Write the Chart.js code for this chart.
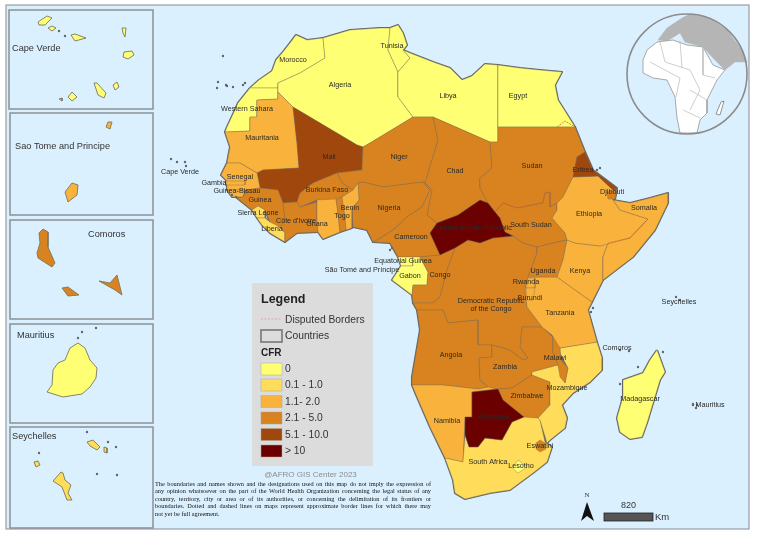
<!DOCTYPE html>
<html><head><meta charset="utf-8">
<style>html,body{margin:0;padding:0;background:#fff}#w{position:absolute;left:0;top:0;width:758px;height:539px}canvas{filter:blur(0.3px)}</style>
<script src="https://cdn.jsdelivr.net/npm/chart.js@4/dist/chart.umd.js"></script>
</head><body><div id="w"><canvas id="c" width="758" height="539"></canvas></div>
<script>
// Map-grid outlines (x, y pairs in map units)
const Morocco=[250,88,259,80,272,71,276,60,283,52,290,43,296,35,307,40,323,38,325,58,300,73,278,83,278,88];
const WesternSahara=[250,88,278,88,278,99,257,100,257,117,250,117,250,131,225,132,227,127,234,112,238,103];
const Algeria=[323,38,350,30,380,28,390,28,388,50,398,72,398,97,413,117,370,143,363,147,357,145,293,107,278,92,278,83,300,73,325,58];
const Tunisia=[390,28,398,25,403,33,407,45,403,50,410,58,398,72,388,50];
const Libya=[403,50,410,53,433,62,450,68,462,80,472,76,485,64,498,65,498,142,490,142,433,117,413,117,398,97,398,72,410,58];
const Egypt=[498,65,520,68,540,70,562,72,555,85,558,100,575,127,498,127];
const Mauritania=[278,92,293,107,297,143,299,168,263,170,257,173,240,163,227,163,230,147,225,132,250,131,250,117,257,117,257,100,278,99];
const Mali=[293,107,357,145,363,147,362,170,337,173,313,183,300,193,297,202,283,203,278,190,260,188,257,173,263,170,299,168,297,143];
const Niger=[363,147,370,143,413,117,433,117,438,140,425,183,423,182,383,187,363,182,358,183,353,190,342,183,337,173,362,170];
const Chad=[433,117,490,142,492,168,480,178,480,188,488,203,480,200,458,215,437,223,427,215,432,190,425,183,438,140];
const Sudan=[498,127,575,127,585,152,577,157,573,177,563,197,557,203,550,207,550,192,545,193,543,203,517,208,503,203,495,212,488,203,480,188,480,178,492,168,490,142,498,142];
const SouthSudan=[495,212,503,203,517,208,543,203,545,193,550,192,550,207,557,203,557,210,552,218,565,233,567,240,557,242,537,247,523,243,513,236,505,232,500,218];
const CentralAfricanRepublic=[480,200,488,203,495,212,500,218,505,232,513,236,493,238,480,243,468,240,455,248,440,255,430,233,437,223,458,215];
const Nigeria=[363,182,383,187,423,182,430,190,422,207,407,217,393,230,377,240,373,242,367,230,353,227,352,208,359,200,358,183];
const Cameroon=[423,182,425,183,432,190,427,215,437,223,430,233,440,255,420,257,398,257,390,243,373,242,377,240,393,230,407,217,422,207,430,190];
const EquatorialGuinea=[398,257,413,257,413,266,401,266];
const Gabon=[401,266,413,266,413,257,420,257,428,272,427,285,413,285,412,295,392,280];
const Congo=[420,257,440,255,455,248,447,270,440,297,433,303,413,303,412,295,413,285,427,285,428,272];
const DRCongo=[455,248,468,240,480,243,493,238,513,236,523,243,537,247,537,253,528,277,525,290,527,307,542,327,522,327,520,347,528,358,523,360,510,350,492,345,478,345,478,320,448,323,443,310,417,310,413,303,433,303,440,297,447,270];
const Angola=[417,310,443,310,448,323,478,320,478,345,492,345,492,357,479,358,480,380,488,387,478,389,443,385,412,385,412,377,420,330];
const Zambia=[522,327,542,327,553,337,553,353,558,365,532,372,532,375,512,388,497,389,488,387,480,380,479,358,492,357,492,345,510,350,523,360,528,358,520,347];
const Namibia=[412,385,443,385,478,389,488,387,497,389,472,392,472,417,465,417,463,462,445,458,430,427,417,397];
const Botswana=[472,392,498,389,503,400,524,417,512,422,502,440,485,438,478,447,469,447,465,435,465,417,472,417];
const Zimbabwe=[498,389,512,388,532,375,550,382,550,405,538,418,524,417,503,400];
const SouthAfrica=[465,435,469,447,478,447,485,438,502,440,512,422,524,417,538,418,540,420,545,442,552,447,547,462,533,473,510,490,490,493,465,499,455,493,453,480,445,458,463,462];
const Lesotho=[512,468,518,460,527,467,518,473];
const Eswatini=[536,443,540,440,545,443,546,449,540,452,536,449];
const Mozambique=[560,348,597,342,602,358,602,370,590,382,573,393,562,405,567,418,565,428,550,440,547,443,540,420,538,418,550,405,550,382,532,375,532,372,558,365,565,383,568,368,560,353];
const Malawi=[553,335,559,337,561,360,568,368,565,383,560,377,558,365,553,353];
const Tanzania=[557,277,592,302,588,310,597,342,560,348,552,335,542,327,527,307,525,290,528,277];
const Uganda=[537,247,557,242,567,240,563,260,557,277,528,277,537,253];
const Rwanda=[528,278,535,278,535,288,526,288];
const Burundi=[526,288,535,288,533,300,527,300];
const Kenya=[567,240,575,243,600,246,608,243,603,257,603,280,592,302,557,277,563,260];
const Ethiopia=[573,177,598,176,613,190,613,200,620,210,648,219,630,238,608,244,600,246,575,243,567,240,565,233,552,218,557,210,557,203,563,197];
const Eritrea=[585,152,593,170,617,188,613,190,598,176,573,177,577,157];
const Djibouti=[607,192,617,190,615,199,608,199];
const Somalia=[613,200,630,203,650,198,668,193,668,203,655,230,633,257,603,280,603,257,608,243,630,238,648,219,620,210];
const Senegal=[227,163,240,163,257,173,260,188,247,190,227,190,227,181,221,175];
const Gambia=[226,181,245,181,245,185,226,185];
const GuineaBissau=[227,190,245,190,243,197,232,197];
const Guinea=[247,190,260,188,278,190,283,203,285,220,278,232,270,222,265,210,258,206,252,210,237,198,243,197];
const SierraLeone=[252,210,258,206,265,210,265,218,257,218];
const Liberia=[265,218,270,222,280,227,285,233,285,242,270,233,262,225,257,218];
const CoteDIvoire=[283,203,297,202,300,207,317,202,317,220,318,232,297,233,285,242,285,233,280,227,285,220];
const BurkinaFaso=[300,193,313,183,337,173,342,183,353,190,342,197,337,200,317,200,300,207,297,202];
const Ghana=[317,200,336,199,338,213,340,232,323,239,318,232,317,220];
const Togo=[336,199,342,197,345,217,346,230,340,232,338,213];
const Benin=[342,197,353,190,358,183,359,200,352,208,352,228,346,230,345,217];
const Madagascar=[657,350,665,372,660,380,647,423,642,437,630,439,620,432,617,418,623,397,623,380,643,373,650,360];
// Inset islands
const CV1=[38,22,47,16,52,18,45,25,39,25],CV2=[48,28,52,26,56,28,52,31],CV3=[71,35,75,34,86,38,75,41],CV4=[122,28,126,28,125,37,123,33],CV5=[124,52,132,51,134,55,128,59,123,57],CV6=[113,85,117,82,119,87,115,90],CV7=[94,83,97,83,106,93,104,98,98,95],CV8=[68,97,72,92,77,97,72,101],CV9=[59,99,62,98,62,101];
const Principe=[106,127,108,122,112,122,110,129],SaoTome=[65,192,72,183,78,185,77,195,68,202];
const GrandeComore=[39,233,43,229,48,232,48,247,55,263,52,267,38,258,37,253,40,243],Moheli=[62,288,68,287,79,295,68,296],Anjouan=[99,281,110,283,117,275,122,295,115,290];
const MauritiusIsland=[70,348,78,343,85,348,90,360,97,368,96,378,90,387,82,394,63,397,47,392,52,385,53,370,58,363,65,360];
const Mahe=[61,472,63,473,65,480,71,485,68,493,72,500,67,500,62,487,53,481],Silhouette=[34,462,38,461,40,465,36,467],Praslin=[87,442,93,440,100,447,97,450,90,446],LaDigue=[104,447,107,448,107,453,104,452];
// CFR class of every shape: 0 = "0", 1 = "0.1 - 1.0", 2 = "1.1- 2.0", 3 = "2.1 - 5.0", 4 = "5.1 - 10.0", 5 = "> 10"
const shapes=[Morocco,WesternSahara,Algeria,Tunisia,Libya,Egypt,Mauritania,Mali,Niger,Chad,Sudan,SouthSudan,Nigeria,Cameroon,EquatorialGuinea,Gabon,Congo,DRCongo,Angola,Zambia,Namibia,Zimbabwe,SouthAfrica,Botswana,CentralAfricanRepublic,Lesotho,Eswatini,Mozambique,Malawi,Tanzania,Uganda,Rwanda,Burundi,Kenya,Ethiopia,Eritrea,Djibouti,Somalia,Senegal,Gambia,GuineaBissau,Guinea,SierraLeone,Liberia,CoteDIvoire,BurkinaFaso,Ghana,Togo,Benin,Madagascar];
const shapeClass=[0,0,0,0,0,0,2,4,3,3,3,3,3,3,0,0,3,3,3,3,2,3,1,5,5,0,3,1,3,2,3,2,2,2,2,4,3,2,2,2,2,3,1,1,3,3,2,3,2,0];
const insetShapes=[CV1,CV2,CV3,CV4,CV5,CV6,CV7,CV8,CV9,Principe,SaoTome,GrandeComore,Moheli,Anjouan,MauritiusIsland,Mahe,Silhouette,Praslin,LaDigue];
const insetClass=[0,0,0,0,0,0,0,0,0,2,2,3,3,3,0,1,1,1,1];
const classColors=['#FFFF73','#FFDC5A','#F9B23B','#D8831F','#A0470E','#6B0000'];
const classLabels=['0','0.1 - 1.0','1.1- 2.0','2.1 - 5.0','5.1 - 10.0','> 10'];
// Disputed borders
const disputed1=[495,212,503,203,517,208,543,203,545,193,550,192,550,207];
const disputed2=[557,127,565,121,575,127];
const disputed3=[608,244,630,238,648,219];
// Small islands
const smallIslands=[[223,56],[218,82],[227,86],[233,87],[226,85],[217,88],[245,83],[243,85],[171,159],[177,162],[185,162],[186,166],[232,195],[236,197],[392,248],[390,250],[591,312],[593,308],[597,170],[600,168],[638,367],[620,384],[697,405],[696,408],[693,405],[676,297],[680,300],[663,352],[629,351],[620,350],[693,404],[39,453],[97,474],[117,475],[108,442],[116,447],[87,432],[82,332],[96,328],[78,338],[59,31],[65,36]];
// Locator globe
const globeCentre=[[687,74]];
const globeEurasia=[658,40,667,28,682,18,690,14,710,18,727,30,742,50,747,62,735,62,730,66,725,70,713,58,703,47,685,42,680,33,672,38,667,41];
const globeAfrica=[647,50,657,42,673,40,687,45,703,47,713,65,725,70,717,80,707,100,707,113,700,120,697,133,680,133,677,118,675,97,667,80,653,78,643,73,643,60];
const globeBorders=[[660,42,665,62,690,70,700,90,690,110],[680,41,682,68],[703,48,703,75,715,78],[650,62,680,78,676,97],[690,90,707,100],[683,110,700,118]];
const globeMadagascar=[721,102,724,101,720,115,716,114];
// Labels: text, x, y
const mapLabels=[['Morocco',293,60],['Algeria',340,85],['Tunisia',392,46],['Libya',448,96],['Egypt',518,96],['Western Sahara',247,109],['Mauritania',262,138],['Mali',329,157],['Niger',399,157],['Chad',455,171],['Sudan',532,166],['Eritrea',583,170],['Djibouti',612,192],['Somalia',644,208],['Ethiopia',589,214],['South Sudan',531,225],['Central African Republic',473,228],['Cape Verde',180,172],['Senegal',240,177],['Gambia',214,183],['Guinea-Bissau',237,191],['Guinea',260,200],['Burkina Faso',327,190],['Sierra Leone',258,213],['Benin',350,208],['Togo',342,216],["Côte d'Ivoire",296,221],['Ghana',317,224],['Liberia',272,229],['Nigeria',389,208],['Cameroon',411,237],['Equatorial Guinea',403,261],['São Tomé and Príncipe',362,270],['Gabon',410,276],['Congo',440,275],['Uganda',543,271],['Kenya',580,271],['Rwanda',526,282],['Burundi',530,298],['Democratic Republic',491,301],['of the Congo',491,309],['Tanzania',560,313],['Angola',451,355],['Zambia',505,367],['Malawi',555,358],['Comoros',617,348],['Seychelles',679,302],['Madagascar',640,399],['Mauritius',710,405],['Mozambique',567,388],['Zimbabwe',527,396],['Namibia',447,421],['Botswana',494,417],['Eswatini',540,446],['South Africa',488,462],['Lesotho',521,466]];
const insetLabels=[['Cape Verde',12,48],['Sao Tome and Principe',15,146],['Comoros',88,234],['Mauritius',17,335],['Seychelles',12,436]];
const insetBoxes=[[9,10,153,109],[10,113,153,215],[10,220,153,319],[10,324,153,423],[10,427,153,528]];
const footnote=['The boundaries and names shown and the designations used on this map do not imply the expression of','any opinion whatsoever on the part of the World Health Organization concerning the legal status of any','country, territory, city or area or of its authorities, or concerning the delimitation of its frontiers or','boundaries. Dotted and dashed lines on maps represent approximate border lines for which there may','not yet be full agreement.'];

const pts=a=>{const o=[];for(let i=0;i<a.length;i+=2)o.push({x:a[i],y:a[i+1]});return o;};
const closed=a=>{const p=pts(a);p.push(p[0]);return p;};
const ds=[];
const poly=(a,fill,stroke,w)=>ds.push({data:closed(a),showLine:true,fill:'shape',backgroundColor:fill,borderColor:stroke,borderWidth:w,pointRadius:0,tension:0,borderJoinStyle:'round'});
const line=(a,stroke,w,dash)=>ds.push({data:pts(a),showLine:true,fill:false,borderColor:stroke,borderWidth:w,borderDash:dash||[],pointRadius:0,tension:0});
shapes.forEach((s,i)=>poly(s,classColors[shapeClass[i]],'#62666a',2.1));
shapes.forEach((s,i)=>poly(s,classColors[shapeClass[i]],'rgba(130,110,85,0.65)',0.6));
[disputed1,disputed2,disputed3].forEach(d=>line(d,'#DF5F26',0.8,[2,1]));
insetShapes.forEach((s,i)=>poly(s,classColors[insetClass[i]],'#7a7660',0.9));
ds.push({data:smallIslands.map(p=>({x:p[0],y:p[1]})),showLine:false,pointRadius:1.2,pointBackgroundColor:'#62666a',pointBorderWidth:0});
poly(globeEurasia,'#B5B5B5','#B5B5B5',0.5);
poly(globeAfrica,'#FFFFFF','#A8A8A8',1);
globeBorders.forEach(b=>line(b,'#B9B9B9',0.7));
poly(globeMadagascar,'#FFFFFF','#777777',0.8);
ds.push({data:globeCentre.map(p=>({x:p[0],y:p[1]})),showLine:false,pointRadius:60,pointBackgroundColor:'rgba(0,0,0,0)',pointBorderColor:'#8c8c8c',pointBorderWidth:1.6});
ds.forEach((d,i)=>{d.order=ds.length-i;});

const sea='#DBF0FE';
const paper={id:'paper',beforeDatasetsDraw(c){const g=c.ctx,X=c.scales.x,Y=c.scales.y;
  const R=(a,b,e,f)=>[X.getPixelForValue(a),Y.getPixelForValue(b),X.getPixelForValue(e)-X.getPixelForValue(a),Y.getPixelForValue(f)-Y.getPixelForValue(b)];
  g.save();g.fillStyle='#fff';g.fillRect(0,0,758,539);
  g.fillStyle=sea;g.fillRect(...R(6,5,749,529));
  g.strokeStyle='#9a9c9e';g.lineWidth=1.2;g.strokeRect(...R(6,5,749,529));
  g.strokeStyle='#8b9095';g.lineWidth=1.5;insetBoxes.forEach(b=>g.strokeRect(...R(b[0],b[1],b[2],b[3])));
  g.restore();}};
const labels={id:'labels',afterDatasetsDraw(c){const g=c.ctx,X=c.scales.x,Y=c.scales.y,px=v=>X.getPixelForValue(v),py=v=>Y.getPixelForValue(v);
  g.save();g.textBaseline='middle';
  g.font='7.2px "Liberation Sans"';g.fillStyle='#2a2a2a';g.textAlign='center';
  mapLabels.forEach(l=>g.fillText(l[0],px(l[1]),py(l[2])));
  g.font='9.2px "Liberation Sans"';g.fillStyle='#333';g.textAlign='left';
  insetLabels.forEach(l=>g.fillText(l[0],px(l[1]),py(l[2])));
  g.fillStyle='#DCDCDC';g.fillRect(252,283,121,183);
  g.fillStyle='#222';g.font='bold 12.5px "Liberation Sans"';g.fillText('Legend',261,299.5);
  g.font='10.3px "Liberation Sans"';g.fillStyle='#333';
  g.strokeStyle='#DDA9A0';g.lineWidth=1;g.setLineDash([2,1.5]);g.beginPath();g.moveTo(261,319);g.lineTo(282,319);g.stroke();g.setLineDash([]);
  g.fillText('Disputed Borders',285,320);
  g.strokeStyle='#777';g.lineWidth=1.6;g.strokeRect(261,330,21,12);
  g.fillText('Countries',285,336.5);
  g.fillStyle='#222';g.font='bold 10px "Liberation Sans"';g.fillText('CFR',261,353);
  g.font='10.3px "Liberation Sans"';
  const top=[363,379,395.5,412,428.5,445];
  classLabels.forEach((t,i)=>{g.fillStyle=classColors[i];g.fillRect(261,top[i],21,12);g.strokeStyle='rgba(170,170,150,.8)';g.lineWidth=.6;g.strokeRect(261,top[i],21,12);g.fillStyle='#333';g.fillText(t,285,top[i]+6.5);});
  g.fillStyle='#8c8c8c';g.font='8px "Liberation Sans"';g.textAlign='center';g.fillText('@AFRO GIS Center 2023',310.5,474.5);
  g.textAlign='left';g.fillStyle='#111';g.font='6.3px "Liberation Serif"';
  footnote.forEach((t,i)=>{const y=484+i*7.6;const w=t.split(' ');
    if(i===4){g.fillText(t,155,y);return;}
    const tw=w.reduce((a,s)=>a+g.measureText(s).width,0),gap=(431-155-tw)/(w.length-1);let x=155;
    w.forEach(s=>{g.fillText(s,x,y);x+=g.measureText(s).width+gap;});});
  g.fillStyle='#333';g.font='7px "Liberation Serif"';g.textAlign='center';g.fillText('N',587,495);
  g.fillStyle='#111';g.beginPath();g.moveTo(587,502);g.lineTo(594,521);g.lineTo(587,516);g.lineTo(581,521);g.closePath();g.fill();
  g.fillStyle='#555';g.fillRect(604,513,49,8);g.strokeStyle='#222';g.lineWidth=.8;g.strokeRect(604,513,49,8);
  g.fillStyle='#333';g.font='9px "Liberation Sans"';g.fillText('820',628.5,506);
  g.textAlign='left';g.font='9.5px "Liberation Sans"';g.fillText('Km',655,517.5);
  g.restore();}};
new Chart(document.getElementById('c'),{type:'scatter',data:{datasets:ds},plugins:[paper,labels],options:{responsive:false,animation:false,events:[],layout:{padding:0,autoPadding:false},clip:false,
  plugins:{legend:{display:false},tooltip:{enabled:false},title:{display:false}},
  scales:{x:{type:'linear',min:0,max:758,display:false},y:{type:'linear',min:0,max:539,reverse:true,display:false}}}});
</script></body></html>
